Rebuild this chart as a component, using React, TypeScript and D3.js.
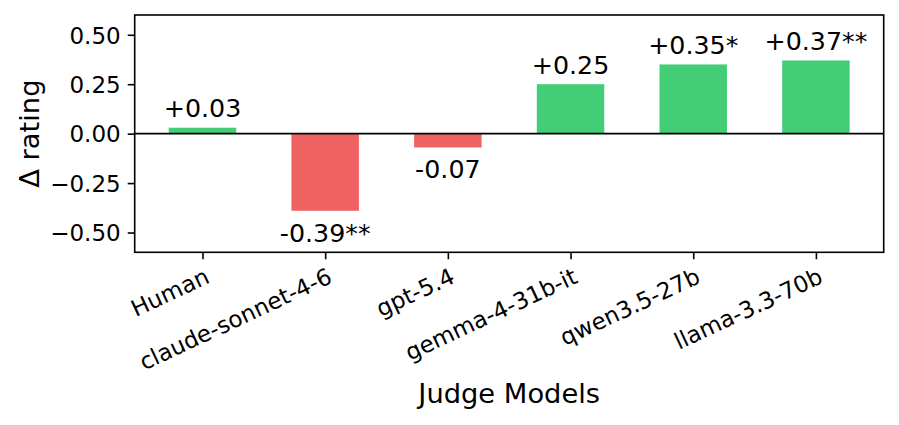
import React, { useRef, useEffect } from 'react';
import * as d3 from 'd3';

// Chart data
const models = ['Human', 'claude-sonnet-4-6', 'gpt-5.4', 'gemma-4-31b-it', 'qwen3.5-27b', 'llama-3.3-70b'];
const deltas = [0.03, -0.39, -0.07, 0.25, 0.35, 0.37];
const stars = ['', '**', '', '', '*', '**'];
const yTicks = [-0.5, -0.25, 0, 0.25, 0.5];

const GREEN = '#43cd77';
const RED = '#f06262';
const FONT = '"DejaVu Sans", sans-serif';

const App = () => {
  const ref = useRef<SVGSVGElement>(null);
  const width = 899;
  const height = 425;

  useEffect(() => {
    document.body.style.margin = '0';
    const svg = d3.select(ref.current);
    svg.selectAll('*').remove();

    const margin = { top: 15, right: 15.3, bottom: 172.7, left: 134.7 };
    const innerWidth = width - margin.left - margin.right;
    const innerHeight = height - margin.top - margin.bottom;

    // bar width 0.55, matplotlib 5% margins
    const barW = 0.55;
    const pad = 0.05 * (models.length - 1 + barW);
    const x = d3.scaleLinear()
      .domain([-barW / 2 - pad, models.length - 1 + barW / 2 + pad])
      .range([0, innerWidth]);

    const y = d3.scaleLinear()
      .domain([-0.6, 0.6])
      .range([innerHeight, 0]);

    const chart = svg.append('g')
      .attr('transform', `translate(${margin.left}, ${margin.top})`);

    // Bars
    chart.selectAll('rect.bar')
      .data(deltas)
      .join('rect')
      .attr('class', 'bar')
      .attr('x', (d, i) => x(i - barW / 2))
      .attr('width', (d, i) => x(i + barW / 2) - x(i - barW / 2))
      .attr('y', d => y(Math.max(0, d)))
      .attr('height', d => Math.abs(y(d) - y(0)))
      .attr('fill', d => (d >= 0 ? GREEN : RED));

    // Zero line
    chart.append('line')
      .attr('x1', 0)
      .attr('x2', innerWidth)
      .attr('y1', y(0))
      .attr('y2', y(0))
      .attr('stroke', 'black')
      .attr('stroke-width', 1.6);

    // Value labels
    chart.selectAll('text.val')
      .data(deltas)
      .join('text')
      .attr('class', 'val')
      .attr('x', (d, i) => x(i))
      .attr('y', d => (d >= 0 ? y(d) - 10.5 : y(d) + 31))
      .attr('text-anchor', 'middle')
      .style('font-family', FONT)
      .style('font-size', '25.3px')
      .text((d, i) => (d >= 0 ? '+' : '-') + Math.abs(d).toFixed(2) + stars[i]);

    // Frame
    chart.append('rect')
      .attr('width', innerWidth)
      .attr('height', innerHeight)
      .attr('fill', 'none')
      .attr('stroke', 'black')
      .attr('stroke-width', 1.6);

    // Y-axis
    const yAxis = chart.append('g')
      .call(d3.axisLeft(y).tickValues(yTicks).tickSize(7).tickPadding(7)
        .tickFormat(d => d3.format('.2f')(d as number).replace('-', '\u2212')));
    yAxis.select('.domain').remove();
    yAxis.selectAll('line').attr('stroke-width', 1.6);
    yAxis.selectAll('text')
      .style('font-family', FONT)
      .style('font-size', '23px')
      .attr('dy', '0.36em');

    // X-axis
    const xAxis = chart.append('g')
      .attr('transform', `translate(0, ${innerHeight})`)
      .call(d3.axisBottom(x).tickValues(d3.range(models.length)).tickSize(7)
        .tickFormat(i => models[i as number]));
    xAxis.select('.domain').remove();
    xAxis.selectAll('line').attr('stroke-width', 1.6);
    xAxis.selectAll('text')
      .style('font-family', FONT)
      .style('font-size', '23px')
      .attr('text-anchor', 'end')
      .attr('y', 0)
      .attr('dy', '0.76em')
      .attr('transform', 'translate(0.5, 14) rotate(-25)');

    // Axis labels
    svg.append('text')
      .attr('transform', `translate(39, ${margin.top + innerHeight / 2}) rotate(-90)`)
      .attr('text-anchor', 'middle')
      .style('font-family', FONT)
      .style('font-size', '27.3px')
      .text('\u0394 rating');

    svg.append('text')
      .attr('x', margin.left + innerWidth / 2)
      .attr('y', 403)
      .attr('text-anchor', 'middle')
      .style('font-family', FONT)
      .style('font-size', '27.3px')
      .text('Judge Models');
  }, []);

  return <svg ref={ref} width={width} height={height} style={{ display: 'block', background: 'white' }} />;
};

export default App;
